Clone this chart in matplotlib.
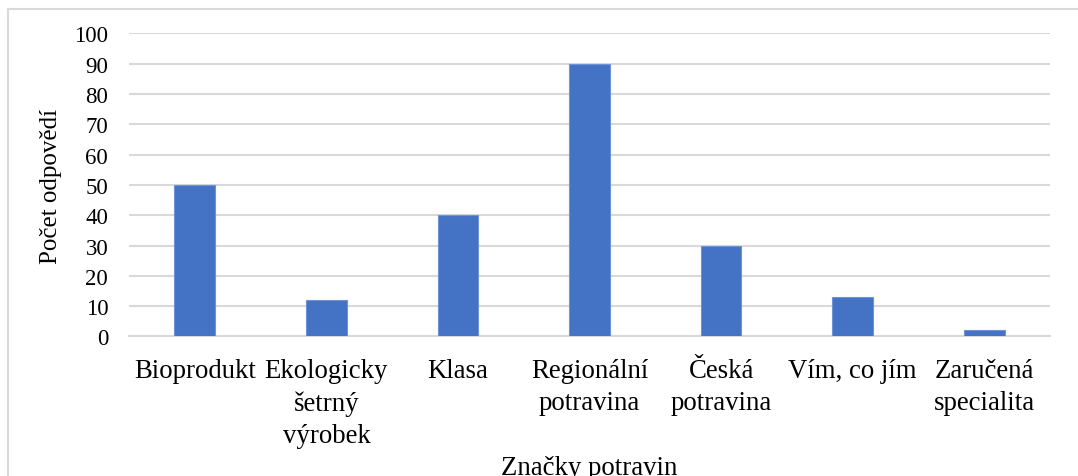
import matplotlib.pyplot as plt
from matplotlib.lines import Line2D

categories = ['Bioprodukt', 'Ekologicky\nšetrný\nvýrobek', 'Klasa', 'Regionální\npotravina',
              'Česká\npotravina', 'Vím, co jím', 'Zaručená\nspecialita']
values = [50, 12, 40, 90, 30, 13, 2]
yticks = [0, 10, 20, 30, 40, 50, 60, 70, 80, 90, 100]

plt.rcParams['font.family'] = ['Liberation Serif', 'DejaVu Serif']
grid_color = '#D9D9D9'

fig = plt.figure(figsize=(10.78, 4.77), dpi=100)
ax = fig.add_axes([0.1197, 0.2925, 0.8543, 0.6352])

x = range(len(categories))
ax.bar(x, values, width=0.31, color='#4472C4', edgecolor='#6F93D6', linewidth=0.8, zorder=3)

ax.set_xlim(-0.5, len(categories) - 0.5)
ax.set_ylim(0, 100)
ax.set_yticks(yticks)
ax.set_xticks(list(x))
ax.set_xticklabels(categories, fontsize=19.3, linespacing=1.38, multialignment='center')
ax.tick_params(axis='y', labelsize=16.5, length=0, pad=15)
ax.tick_params(axis='x', length=0, pad=15.5)
ax.grid(axis='y', color=grid_color, linewidth=1.5, zorder=0)
for s in ['top', 'right', 'left']:
    ax.spines[s].set_visible(False)
ax.spines['bottom'].set_color(grid_color)
ax.spines['bottom'].set_linewidth(1.5)

ax.set_ylabel('Počet odpovědí', fontsize=18)
ax.yaxis.label.set_va('center')
ax.yaxis.set_label_coords(-0.085, 0.5)
ax.set_xlabel('Značky potravin', fontsize=19.3)
ax.xaxis.label.set_va('baseline')
ax.xaxis.set_label_coords(0.5, -0.455)

# chart frame, cut off on right and bottom
W, H = 1078, 477
fig.add_artist(Line2D([8 / W, 8 / W], [0, 1 - 10 / H], color=grid_color, linewidth=1.5,
                      transform=fig.transFigure))
fig.add_artist(Line2D([8 / W, 1], [1 - 10 / H, 1 - 10 / H], color=grid_color, linewidth=1.5,
                      transform=fig.transFigure))

fig.savefig('out.png', dpi=100)
